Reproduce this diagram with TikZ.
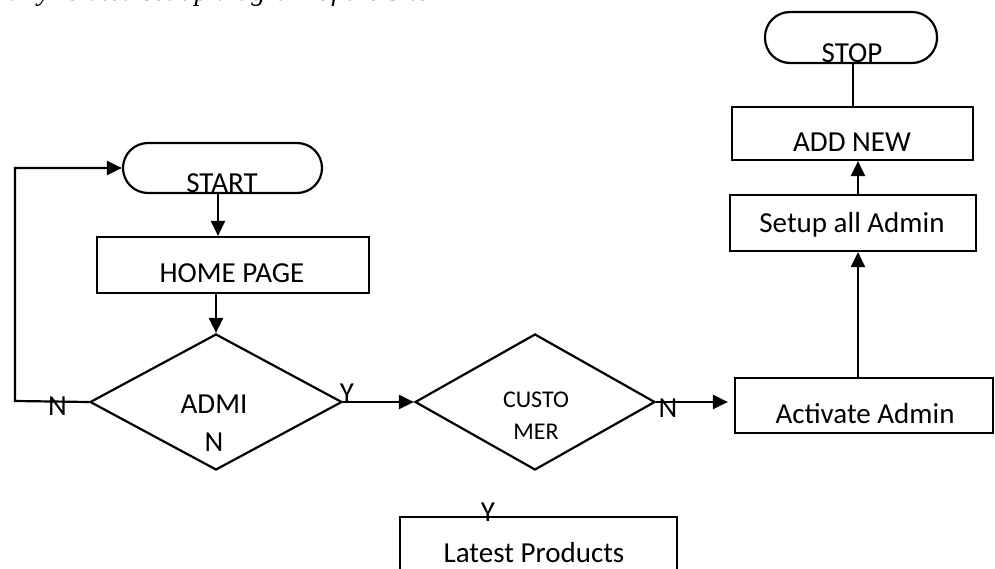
\documentclass[tikz,border=0pt]{standalone}
\usepackage{fontspec}
\setmainfont{Carlito}
\newfontfamily\captionserif{Liberation Serif}
\usetikzlibrary{shapes.geometric,arrows.meta}

\begin{document}
\begin{tikzpicture}[x=1pt,y=-1pt,
  flow/.style={line width=2.2pt},
  arr/.style={flow,-{Triangle[length=15pt,width=14pt]}},
  terminal/.style={draw,line width=2.2pt,rounded corners=25pt,inner sep=0pt},
  procbox/.style={draw,line width=2.2pt,inner sep=0pt},
  decision/.style={draw,diamond,line width=2.2pt,inner sep=0pt},
  lbl/.style={font=\fontsize{29}{31}\selectfont,anchor=base,inner sep=0pt},
  smalllbl/.style={font=\fontsize{24}{26}\selectfont,anchor=base,inner sep=0pt}]

\useasboundingbox (0,0) rectangle (995,569);

% caption line running off the top edge
\begin{scope}
  \clip (0,0) rectangle (995,569);
  \node[anchor=base west,inner sep=0pt,font=\captionserif\itshape\fontsize{28}{30}\selectfont]
    (caption) at (8,1) {ally related set up diagram of the Site};
\end{scope}

% shapes
\node[terminal,minimum width=199pt,minimum height=50pt] (start) at (222.5,168) {};
\node[procbox,minimum width=272pt,minimum height=56pt] (home) at (233,265) {};
\node[decision,minimum width=252pt,minimum height=136pt] (admin) at (216,402) {};
\node[decision,minimum width=240pt,minimum height=136pt] (cust) at (535,402) {};
\node[procbox,minimum width=258pt,minimum height=55pt] (act) at (864,405.5) {};
\node[procbox,minimum width=246pt,minimum height=56pt] (setup) at (853,223) {};
\node[procbox,minimum width=241pt,minimum height=53pt] (addnew) at (852.5,133.5) {};
\node[terminal,minimum width=172pt,minimum height=51pt] (stop) at (851,37.5) {};
\node[procbox,minimum width=277pt,minimum height=80pt] (latest) at (538.5,557) {};

% texts
\node[lbl] (tstart) at (222,193) {START};
\node[lbl] (thome) at (232,282) {HOME PAGE};
\node[lbl] (tadmin1) at (214,413) {ADMI};
\node[lbl] (tadmin2) at (214,451) {N};
\node[smalllbl] (tcust1) at (536,407) {CUSTO};
\node[smalllbl] (tcust2) at (536,439) {MER};
\node[lbl] (tact) at (865,423) {Activate Admin};
\node[lbl] (tsetup) at (852,233) {Setup all Admin};
\node[lbl] (taddnew) at (852,152) {ADD NEW};
\node[lbl] (tstop) at (852,63) {STOP};
\node[lbl] (tlatest) at (534,562) {Latest Products};

% branch labels
\node[lbl] (ny) at (347,402) {Y};
\node[lbl] (nn) at (668,417) {N};
\node[lbl] (nleft) at (57.5,415) {N};
\node[lbl] (ylatest) at (488,521) {Y};

% connectors
\coordinate (loopcorner) at (15,401);
\coordinate (colA) at (858,0);
\coordinate (colB) at (853,0);
\coordinate (colC) at (218,0);

\draw[arr] (admin.west) -- (loopcorner) |- (start.west);
\draw[arr] (start.south -| colC) -- (home.north -| colC);
\draw[arr] (home.south -| admin.north) -- (admin.north);
\draw[arr] (admin.east) -- (cust.west);
\draw[arr,shorten >=6pt] (cust.east) -- (cust.east -| act.west);
\draw[arr] (act.north -| colA) -- (setup.south -| colA);
\draw[arr] (setup.north -| colA) -- (addnew.south -| colA);
\draw[flow] (stop.south -| colB) -- (addnew.north -| colB);
\end{tikzpicture}
\end{document}
